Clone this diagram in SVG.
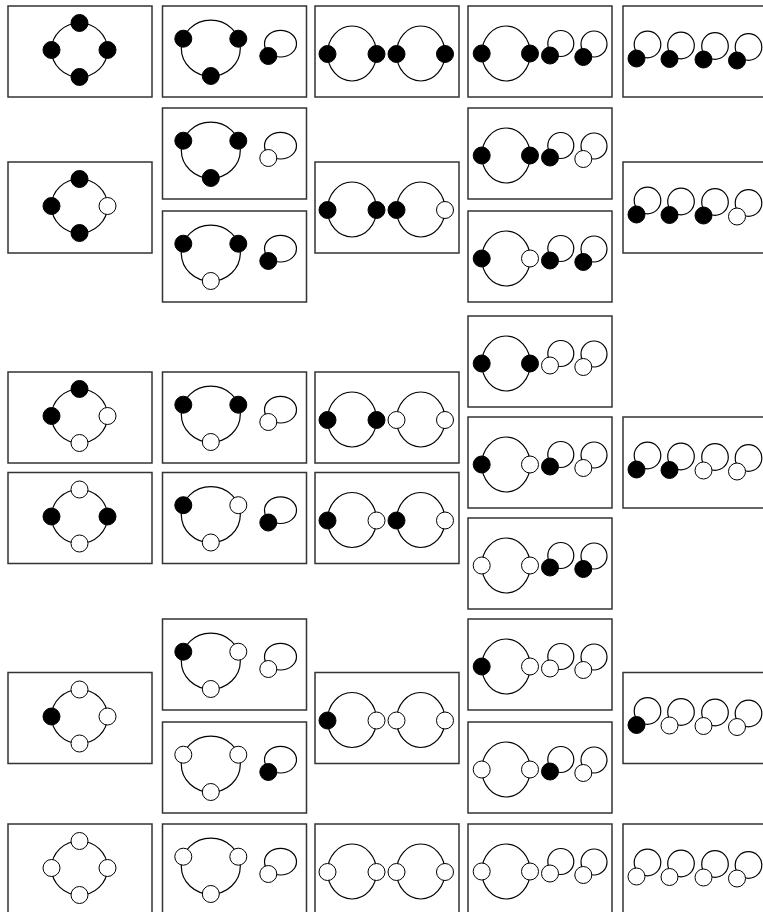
<svg xmlns="http://www.w3.org/2000/svg" xmlns:xlink="http://www.w3.org/1999/xlink" width="763" height="912" viewBox="0 0 763 912">
<style>
.box{fill:#fff;stroke:#333;stroke-width:1.5}
.ln{fill:none;stroke:#000;stroke-width:1.2}
.b{fill:#000;stroke:#000;stroke-width:1}
.w{fill:#fff;stroke:#000;stroke-width:1}
</style>
<defs>
<rect id="bx" class="box" x="0" y="0" width="144" height="91"/>
<g id="t1"><use xlink:href="#bx"/><ellipse class="ln" cx="71.5" cy="44" rx="28" ry="27"/></g>
<g id="t2"><use xlink:href="#bx"/><ellipse class="ln" cx="48.3" cy="42.2" rx="29.5" ry="28"/><ellipse class="ln" cx="118" cy="37.7" rx="16" ry="13.3"/></g>
<g id="t3"><use xlink:href="#bx"/><ellipse class="ln" cx="37" cy="47.5" rx="24.5" ry="27.5"/><ellipse class="ln" cx="105.75" cy="47.5" rx="24.25" ry="27.5"/></g>
<g id="t4"><use xlink:href="#bx"/><ellipse class="ln" cx="38" cy="47.5" rx="24.2" ry="27.5"/><circle class="ln" cx="92.8" cy="37.5" r="13"/><circle class="ln" cx="126" cy="38" r="13"/></g>
<g id="t5"><use xlink:href="#bx"/><circle class="ln" cx="24.5" cy="38.5" r="13.3"/><circle class="ln" cx="58" cy="39.5" r="13.3"/><circle class="ln" cx="92" cy="40" r="13.3"/><circle class="ln" cx="125.5" cy="41" r="13.3"/></g>
</defs>
<rect width="763" height="912" fill="#fff"/>
<g id="connectors"></g>

<!-- Row A -->
<g id="a1" transform="translate(8,6)"><use xlink:href="#t1"/><circle class="b" cx="71.5" cy="17" r="8.5"/><circle class="b" cx="43.5" cy="44" r="8.5"/><circle class="b" cx="99.5" cy="44" r="8.5"/><circle class="b" cx="71.5" cy="71" r="8.5"/></g>
<g id="a2" transform="translate(162.5,6)"><use xlink:href="#t2"/><circle class="b" cx="20.8" cy="32.7" r="8.5"/><circle class="b" cx="75.8" cy="32.7" r="8.5"/><circle class="b" cx="48.3" cy="70" r="8.5"/><circle class="b" cx="105.8" cy="50" r="8.5"/></g>
<g id="a3" transform="translate(315,6)"><use xlink:href="#t3"/><circle class="b" cx="12.5" cy="48" r="8.5"/><circle class="b" cx="61.5" cy="48" r="8.5"/><circle class="b" cx="81.5" cy="48" r="8.5"/><circle class="b" cx="130" cy="48" r="8.5"/></g>
<g id="a4" transform="translate(468,6)"><use xlink:href="#t4"/><circle class="b" cx="13.7" cy="47.5" r="8.5"/><circle class="b" cx="62" cy="47.5" r="8.5"/><circle class="b" cx="82" cy="49.5" r="8.5"/><circle class="b" cx="115.3" cy="51" r="8.5"/></g>
<g id="a5" transform="translate(623,6)"><use xlink:href="#t5"/><circle class="b" cx="13.5" cy="52.5" r="8.5"/><circle class="b" cx="46.5" cy="53" r="8.5"/><circle class="b" cx="80.5" cy="53.5" r="8.5"/><circle class="b" cx="114" cy="54.5" r="8.5"/></g>

<!-- Section B -->
<g id="b2u" transform="translate(162.5,108)"><use xlink:href="#t2"/><circle class="b" cx="20.8" cy="32.7" r="8.5"/><circle class="b" cx="75.8" cy="32.7" r="8.5"/><circle class="b" cx="48.3" cy="70" r="8.5"/><circle class="w" cx="105.8" cy="50" r="8.5"/></g>
<g id="b4u" transform="translate(468,108)"><use xlink:href="#t4"/><circle class="b" cx="13.7" cy="47.5" r="8.5"/><circle class="b" cx="62" cy="47.5" r="8.5"/><circle class="b" cx="82" cy="49.5" r="8.5"/><circle class="w" cx="115.3" cy="51" r="8.5"/></g>
<g id="b1" transform="translate(8,162)"><use xlink:href="#t1"/><circle class="b" cx="71.5" cy="17" r="8.5"/><circle class="b" cx="43.5" cy="44" r="8.5"/><circle class="w" cx="99.5" cy="44" r="8.5"/><circle class="b" cx="71.5" cy="71" r="8.5"/></g>
<g id="b3" transform="translate(315,162)"><use xlink:href="#t3"/><circle class="b" cx="12.5" cy="48" r="8.5"/><circle class="b" cx="61.5" cy="48" r="8.5"/><circle class="b" cx="81.5" cy="48" r="8.5"/><circle class="w" cx="130" cy="48" r="8.5"/></g>
<g id="b5" transform="translate(623,162)"><use xlink:href="#t5"/><circle class="b" cx="13.5" cy="52.5" r="8.5"/><circle class="b" cx="46.5" cy="53" r="8.5"/><circle class="b" cx="80.5" cy="53.5" r="8.5"/><circle class="w" cx="114" cy="54.5" r="8.5"/></g>
<g id="b2l" transform="translate(162.5,211)"><use xlink:href="#t2"/><circle class="b" cx="20.8" cy="32.7" r="8.5"/><circle class="b" cx="75.8" cy="32.7" r="8.5"/><circle class="w" cx="48.3" cy="70" r="8.5"/><circle class="b" cx="105.8" cy="50" r="8.5"/></g>
<g id="b4l" transform="translate(468,211)"><use xlink:href="#t4"/><circle class="b" cx="13.7" cy="47.5" r="8.5"/><circle class="w" cx="62" cy="47.5" r="8.5"/><circle class="b" cx="82" cy="49.5" r="8.5"/><circle class="b" cx="115.3" cy="51" r="8.5"/></g>

<!-- Section C -->
<g id="c4a" transform="translate(468,316)"><use xlink:href="#t4"/><circle class="b" cx="13.7" cy="47.5" r="8.5"/><circle class="b" cx="62" cy="47.5" r="8.5"/><circle class="w" cx="82" cy="49.5" r="8.5"/><circle class="w" cx="115.3" cy="51" r="8.5"/></g>
<g id="c1u" transform="translate(8,372)"><use xlink:href="#t1"/><circle class="b" cx="71.5" cy="17" r="8.5"/><circle class="b" cx="43.5" cy="44" r="8.5"/><circle class="w" cx="99.5" cy="44" r="8.5"/><circle class="w" cx="71.5" cy="71" r="8.5"/></g>
<g id="c2u" transform="translate(162.5,372)"><use xlink:href="#t2"/><circle class="b" cx="20.8" cy="32.7" r="8.5"/><circle class="b" cx="75.8" cy="32.7" r="8.5"/><circle class="w" cx="48.3" cy="70" r="8.5"/><circle class="w" cx="105.8" cy="50" r="8.5"/></g>
<g id="c3u" transform="translate(315,372)"><use xlink:href="#t3"/><circle class="b" cx="12.5" cy="48" r="8.5"/><circle class="b" cx="61.5" cy="48" r="8.5"/><circle class="w" cx="81.5" cy="48" r="8.5"/><circle class="w" cx="130" cy="48" r="8.5"/></g>
<g id="c4b" transform="translate(468,417)"><use xlink:href="#t4"/><circle class="b" cx="13.7" cy="47.5" r="8.5"/><circle class="w" cx="62" cy="47.5" r="8.5"/><circle class="b" cx="82" cy="49.5" r="8.5"/><circle class="w" cx="115.3" cy="51" r="8.5"/></g>
<g id="c5" transform="translate(623,417)"><use xlink:href="#t5"/><circle class="b" cx="13.5" cy="52.5" r="8.5"/><circle class="b" cx="46.5" cy="53" r="8.5"/><circle class="w" cx="80.5" cy="53.5" r="8.5"/><circle class="w" cx="114" cy="54.5" r="8.5"/></g>
<g id="c1l" transform="translate(8,472.5)"><use xlink:href="#t1"/><circle class="w" cx="71.5" cy="17" r="8.5"/><circle class="b" cx="43.5" cy="44" r="8.5"/><circle class="b" cx="99.5" cy="44" r="8.5"/><circle class="w" cx="71.5" cy="71" r="8.5"/></g>
<g id="c2l" transform="translate(162.5,472.5)"><use xlink:href="#t2"/><circle class="b" cx="20.8" cy="32.7" r="8.5"/><circle class="w" cx="75.8" cy="32.7" r="8.5"/><circle class="w" cx="48.3" cy="70" r="8.5"/><circle class="b" cx="105.8" cy="50" r="8.5"/></g>
<g id="c3l" transform="translate(315,472.5)"><use xlink:href="#t3"/><circle class="b" cx="12.5" cy="48" r="8.5"/><circle class="w" cx="61.5" cy="48" r="8.5"/><circle class="b" cx="81.5" cy="48" r="8.5"/><circle class="w" cx="130" cy="48" r="8.5"/></g>
<g id="c4c" transform="translate(468,518)"><use xlink:href="#t4"/><circle class="w" cx="13.7" cy="47.5" r="8.5"/><circle class="w" cx="62" cy="47.5" r="8.5"/><circle class="b" cx="82" cy="49.5" r="8.5"/><circle class="b" cx="115.3" cy="51" r="8.5"/></g>

<!-- Section D -->
<g id="d2u" transform="translate(162.5,619)"><use xlink:href="#t2"/><circle class="b" cx="20.8" cy="32.7" r="8.5"/><circle class="w" cx="75.8" cy="32.7" r="8.5"/><circle class="w" cx="48.3" cy="70" r="8.5"/><circle class="w" cx="105.8" cy="50" r="8.5"/></g>
<g id="d4u" transform="translate(468,619)"><use xlink:href="#t4"/><circle class="b" cx="13.7" cy="47.5" r="8.5"/><circle class="w" cx="62" cy="47.5" r="8.5"/><circle class="w" cx="82" cy="49.5" r="8.5"/><circle class="w" cx="115.3" cy="51" r="8.5"/></g>
<g id="d1" transform="translate(8,672.5)"><use xlink:href="#t1"/><circle class="w" cx="71.5" cy="17" r="8.5"/><circle class="b" cx="43.5" cy="44" r="8.5"/><circle class="w" cx="99.5" cy="44" r="8.5"/><circle class="w" cx="71.5" cy="71" r="8.5"/></g>
<g id="d3" transform="translate(315,672.5)"><use xlink:href="#t3"/><circle class="b" cx="12.5" cy="48" r="8.5"/><circle class="w" cx="61.5" cy="48" r="8.5"/><circle class="w" cx="81.5" cy="48" r="8.5"/><circle class="w" cx="130" cy="48" r="8.5"/></g>
<g id="d5" transform="translate(623,672.5)"><use xlink:href="#t5"/><circle class="b" cx="13.5" cy="52.5" r="8.5"/><circle class="w" cx="46.5" cy="53" r="8.5"/><circle class="w" cx="80.5" cy="53.5" r="8.5"/><circle class="w" cx="114" cy="54.5" r="8.5"/></g>
<g id="d2l" transform="translate(162.5,722)"><use xlink:href="#t2"/><circle class="w" cx="20.8" cy="32.7" r="8.5"/><circle class="w" cx="75.8" cy="32.7" r="8.5"/><circle class="w" cx="48.3" cy="70" r="8.5"/><circle class="b" cx="105.8" cy="50" r="8.5"/></g>
<g id="d4l" transform="translate(468,722)"><use xlink:href="#t4"/><circle class="w" cx="13.7" cy="47.5" r="8.5"/><circle class="w" cx="62" cy="47.5" r="8.5"/><circle class="b" cx="82" cy="49.5" r="8.5"/><circle class="w" cx="115.3" cy="51" r="8.5"/></g>

<!-- Row E -->
<g id="e1" transform="translate(8,824)"><use xlink:href="#t1"/><circle class="w" cx="71.5" cy="17" r="8.5"/><circle class="w" cx="43.5" cy="44" r="8.5"/><circle class="w" cx="99.5" cy="44" r="8.5"/><circle class="w" cx="71.5" cy="71" r="8.5"/></g>
<g id="e2" transform="translate(162.5,824)"><use xlink:href="#t2"/><circle class="w" cx="20.8" cy="32.7" r="8.5"/><circle class="w" cx="75.8" cy="32.7" r="8.5"/><circle class="w" cx="48.3" cy="70" r="8.5"/><circle class="w" cx="105.8" cy="50" r="8.5"/></g>
<g id="e3" transform="translate(315,824)"><use xlink:href="#t3"/><circle class="w" cx="12.5" cy="48" r="8.5"/><circle class="w" cx="61.5" cy="48" r="8.5"/><circle class="w" cx="81.5" cy="48" r="8.5"/><circle class="w" cx="130" cy="48" r="8.5"/></g>
<g id="e4" transform="translate(468,824)"><use xlink:href="#t4"/><circle class="w" cx="13.7" cy="47.5" r="8.5"/><circle class="w" cx="62" cy="47.5" r="8.5"/><circle class="w" cx="82" cy="49.5" r="8.5"/><circle class="w" cx="115.3" cy="51" r="8.5"/></g>
<g id="e5" transform="translate(623,824)"><use xlink:href="#t5"/><circle class="w" cx="13.5" cy="52.5" r="8.5"/><circle class="w" cx="46.5" cy="53" r="8.5"/><circle class="w" cx="80.5" cy="53.5" r="8.5"/><circle class="w" cx="114" cy="54.5" r="8.5"/></g>
</svg>
